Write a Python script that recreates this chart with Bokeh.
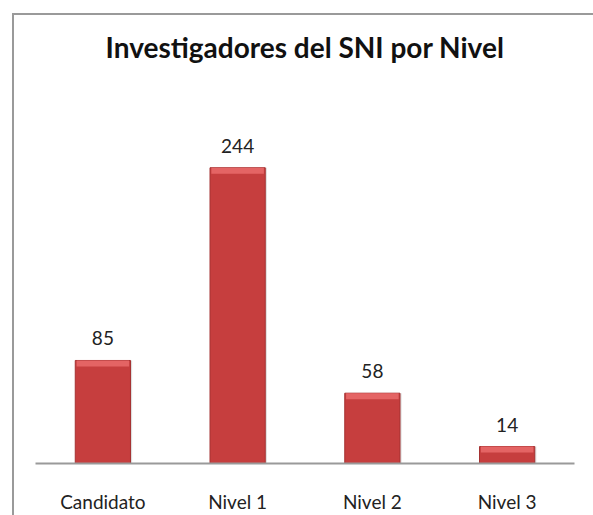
from bokeh.plotting import figure
from bokeh.models import ColumnDataSource, FactorRange, Range1d, InlineStyleSheet
from bokeh.transform import dodge
from bokeh.core.properties import value
from bokeh.embed import file_html
from bokeh.resources import INLINE

categories = ["Candidato", "Nivel 1", "Nivel 2", "Nivel 3"]
counts = [85, 244, 58, 14]
title_text = "Investigadores del SNI por Nivel"

src = ColumnDataSource(dict(
    cat=categories,
    val=counts,
    lab=[str(v) for v in counts],
    bev=[v - min(5, v * 0.35) for v in counts],
))

p = figure(
    width=593, height=515,
    x_range=FactorRange(*categories, range_padding=0),
    y_range=Range1d(0, 330),
    output_backend="svg", toolbar_location=None,
    min_border_left=35, min_border_right=19, min_border_top=63, min_border_bottom=52,
)
p.title.text = title_text
p.title.align = "center"
p.title.text_font = "Lato"
p.title.text_font_size = "28px"
p.title.text_font_style = "bold"
p.title.text_color = "#111111"
p.title.offset = 0
p.title.standoff = 0

p.outline_line_color = None
p.xgrid.visible = False
p.ygrid.visible = False
p.yaxis.visible = False

ax = p.xaxis[0]
ax.axis_line_color = "#9a9a9a"
ax.axis_line_width = 2
ax.major_tick_line_color = None
ax.minor_tick_line_color = None
ax.major_label_text_font = "Lato"
ax.major_label_text_font_size = "19px"
ax.major_label_text_color = "#222222"
ax.major_label_standoff = 20

# soft shadow
p.vbar(x=dodge("cat", 0.012, range=p.x_range), top="val", bottom=0, width=0.41,
       source=src, fill_color="#777777", fill_alpha=0.25, line_color=None)
# main bar
p.vbar(x="cat", top="val", bottom=0, width=0.41, source=src,
       fill_color="#C63E3E", line_color="#A53232", line_width=1)
# top bevel highlight
p.vbar(x="cat", top="val", bottom="bev", width=0.39, source=src,
       fill_color="#E46464", line_color=None)

p.text(x="cat", y="val", text="lab", source=src, y_offset=-22,
       text_align="center", text_baseline="middle",
       text_font=value("Lato"), text_font_size="19px", text_color="#222222")

p.stylesheets = [InlineStyleSheet(css="""
:host::after {
  content: "";
  position: absolute;
  left: 12px; top: 13px; right: 0; bottom: 0;
  border-left: 2px solid #9a9a9a;
  border-top: 2px solid #9a9a9a;
  pointer-events: none;
}
""")]

open("out.html", "w").write(file_html(p, INLINE))
